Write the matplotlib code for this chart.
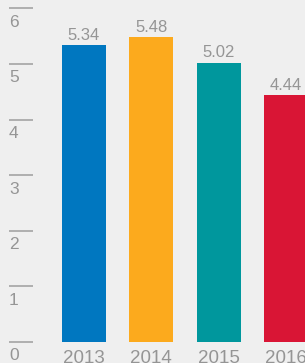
import matplotlib
matplotlib.use("Agg")
import matplotlib.pyplot as plt

years = ["2013", "2014", "2015", "2016"]
values = [5.34, 5.48, 5.02, 4.44]
colors = ["#0077C0", "#FCAA1D", "#00979D", "#D91535"]
yticks = [0, 1, 2, 3, 4, 5, 6]

W, H = 305, 363
fig = plt.figure(figsize=(W / 100, H / 100), dpi=100)
fig.patch.set_facecolor("#EFEFEF")
ax = fig.add_axes([0, 0, 1, 1])
ax.set_facecolor("#EFEFEF")
ax.axis("off")

step = 67.3
c0 = 84
unit = 55.6
base = 342
ax.set_xlim(-c0 / step, (W - c0) / step)
ax.set_ylim(-(H - base) / unit, base / unit)

grey = "#959595"
font = "Liberation Sans"
x = list(range(len(years)))
ax.bar(x, values, width=44 / step, color=colors)

for xi, v in zip(x, values):
    ax.text(xi, v + 0.1, f"{v:.2f}", ha="center", va="baseline",
            fontsize=12, color=grey, family=font)

for xi, yr in zip(x, years):
    ax.text(xi, -0.375, yr, ha="center", va="baseline",
            fontsize=13.5, color=grey, family=font)

tr = ax.get_yaxis_transform()
for t in yticks:
    ax.plot([9 / W, 33 / W], [t, t], transform=tr, color="#AAAAAA", lw=1.3,
            solid_capstyle="butt")
    ax.text(9 / W, t - 0.33, str(t), transform=tr, ha="left", va="baseline",
            fontsize=12.5, color=grey, family=font)

fig.savefig("out.png", dpi=100, facecolor=fig.get_facecolor())
